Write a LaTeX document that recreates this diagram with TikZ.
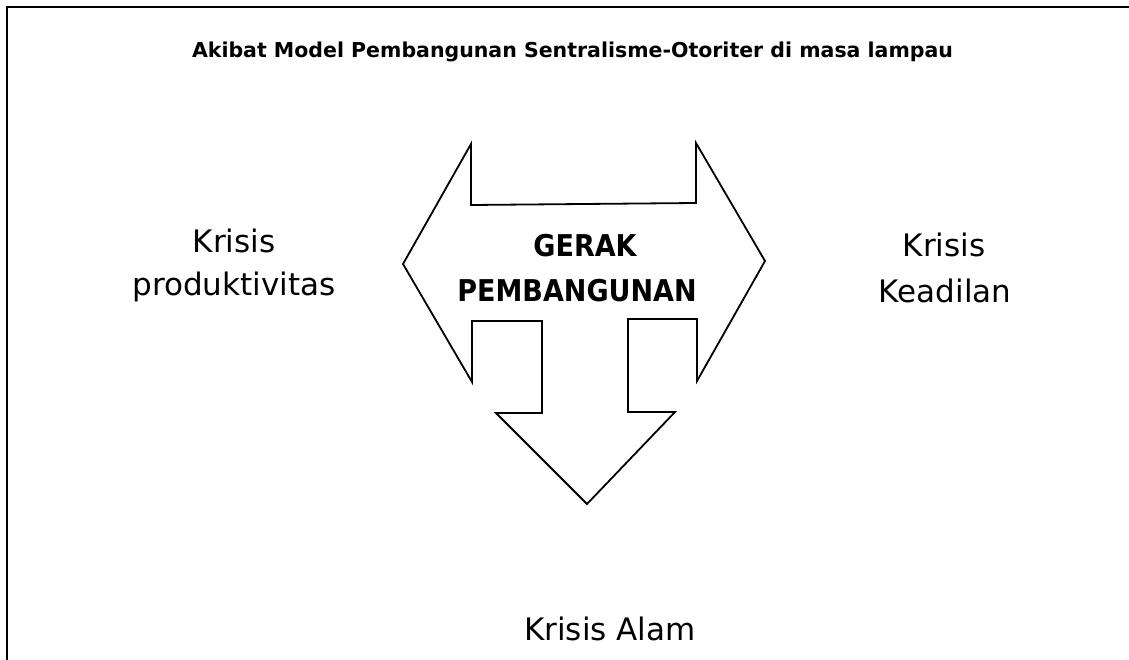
\documentclass[tikz,border=0pt]{standalone}
\usepackage{fontspec}
\setmainfont{DejaVu Sans}
\newfontfamily\narrowfont{DejaVu Sans Condensed}
\begin{document}
\begin{tikzpicture}[x=1pt,y=-1pt,
  frame/.style={line width=2.5pt,line cap=rect},
  bigarrow/.style={draw=black,line width=1.8pt,line join=miter,fill=white},
  lbl/.style={inner sep=0pt,anchor=base,font=\fontsize{31}{37}\selectfont},
  bold lbl/.style={inner sep=0pt,anchor=base,font=\narrowfont\fontsize{30}{36}\selectfont\bfseries},
  heading/.style={inner sep=0pt,anchor=base,font=\fontsize{20.5}{25}\selectfont\bfseries}]
\useasboundingbox (0,0) rectangle (1129,660);

% open frame: top and left edges only
\draw[frame] (7,660) -- (7,7) -- (1129,7);

% heading
\node[heading] (title) at (572.5,58) {Akibat Model Pembangunan Sentralisme-Otoriter di masa lampau};

% three-way arrow: left, right and down
\draw[bigarrow] (403,264) -- (471,144) -- (471,205) -- (696,203) -- (696,143)
  -- (765,261) -- (697,381) -- (697,319) -- (628,319) -- (628,412)
  -- (675,412) -- (587,504) -- (496,413) -- (542,413) -- (542,321)
  -- (472,321) -- (472,382) -- cycle;

% text inside the arrow
\node[bold lbl] (g1) at (585,257) {GERAK};
\node[bold lbl] (g2) at (577,301) {PEMBANGUNAN};

% crises around the arrow
\node[lbl] (kp1) at (234,253) {Krisis};
\node[lbl] (kp2) at (234,295) {produktivitas};
\node[lbl] (kk1) at (944,257) {Krisis};
\node[lbl] (kk2) at (945,302) {Keadilan};
\node[lbl] (ka) at (610,640) {Krisis Alam};
\end{tikzpicture}
\end{document}
